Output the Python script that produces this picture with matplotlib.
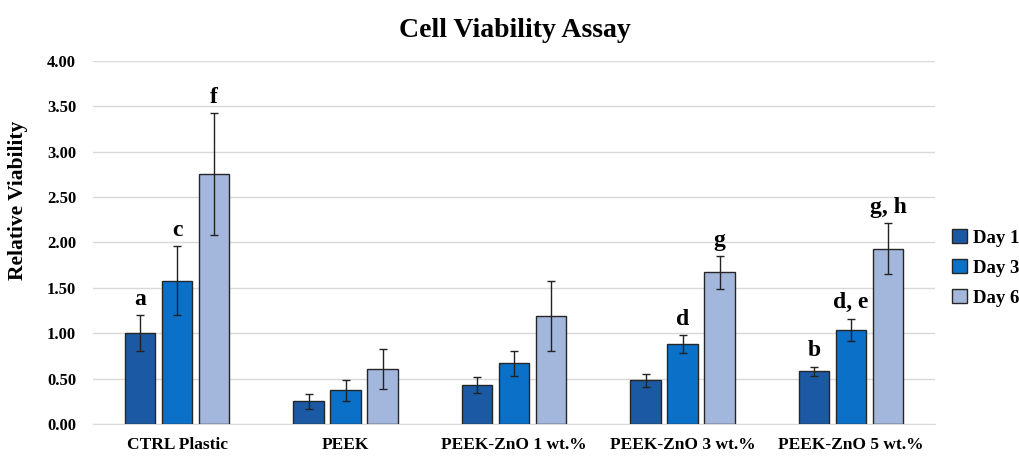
import numpy as np
import matplotlib
matplotlib.use("Agg")
from matplotlib import pyplot as plt

categories = ["CTRL Plastic", "PEEK", "PEEK-ZnO 1 wt.%", "PEEK-ZnO 3 wt.%", "PEEK-ZnO 5 wt.%"]
series = ["Day 1", "Day 3", "Day 6"]
day1 = [1.00, 0.25, 0.43, 0.48, 0.58]
day3 = [1.58, 0.37, 0.67, 0.88, 1.04]
day6 = [2.75, 0.61, 1.19, 1.67, 1.93]
err1 = [0.20, 0.08, 0.09, 0.07, 0.05]
err3 = [0.38, 0.12, 0.14, 0.10, 0.12]
err6 = [0.67, 0.22, 0.39, 0.18, 0.28]
letters1 = ["a", "", "", "", "b"]
letters3 = ["c", "", "", "d", "d, e"]
letters6 = ["f", "", "", "g", "g, h"]
colors = ["#1B59A4", "#0B70C8", "#A3B6DC"]

plt.rcParams['font.family'] = ['Liberation Serif', 'DejaVu Serif']
fig = plt.figure(figsize=(10.2, 4.57), dpi=100)
ax = fig.add_axes([0.091, 0.072, 0.826, 0.795])

x = np.arange(len(categories))
w = 0.18
step = 0.22
vals = [day1, day3, day6]
errs = [err1, err3, err6]
labs = [letters1, letters3, letters6]
for i in range(3):
    xs = x + (i - 1) * step
    ax.bar(xs, vals[i], w, color=colors[i], edgecolor="#262626", linewidth=1.0,
           label=series[i], zorder=3)
    ax.errorbar(xs, vals[i], yerr=errs[i], fmt="none", ecolor="#222222",
                elinewidth=1.0, capsize=3, capthick=1.0, zorder=4)
    for j in range(len(categories)):
        if labs[i][j]:
            ax.text(xs[j], vals[i][j] + errs[i][j] + 0.06, labs[i][j], ha="center",
                    va="bottom", fontsize=17, fontweight="bold")

ax.set_xlim(-0.5, len(categories) - 0.5)
ax.set_ylim(0, 4.0)
ax.set_yticks(np.arange(0, 4.01, 0.5))
ax.set_yticklabels(["%.2f" % v for v in np.arange(0, 4.01, 0.5)])
ax.set_xticks(x)
ax.set_xticklabels(categories)
ax.yaxis.grid(True, color="#D9D9D9", linewidth=1.0, zorder=0)
for s in ["top", "right", "left"]:
    ax.spines[s].set_visible(False)
ax.spines["bottom"].set_color("#D9D9D9")
ax.tick_params(length=0)
ax.tick_params(axis="x", labelsize=12.5, pad=9)
ax.tick_params(axis="y", labelsize=12, pad=12)
for t in ax.get_xticklabels() + ax.get_yticklabels():
    t.set_fontweight("bold")
ax.set_ylabel("Relative Viability", fontsize=15.5, fontweight="bold")
ax.yaxis.set_label_coords(-0.077, 0.615)
fig.suptitle("Cell Viability Assay", x=0.505, y=0.96, fontsize=20, fontweight="bold")

leg = ax.legend(loc="center left", bbox_to_anchor=(1.02, 0.43), frameon=False,
                borderaxespad=0, borderpad=0,
                prop={"weight": "bold", "size": 13.5}, handlelength=0.8, handleheight=0.8,
                handletextpad=0.3, labelspacing=0.65)
fig.savefig("out.png", dpi=100)
